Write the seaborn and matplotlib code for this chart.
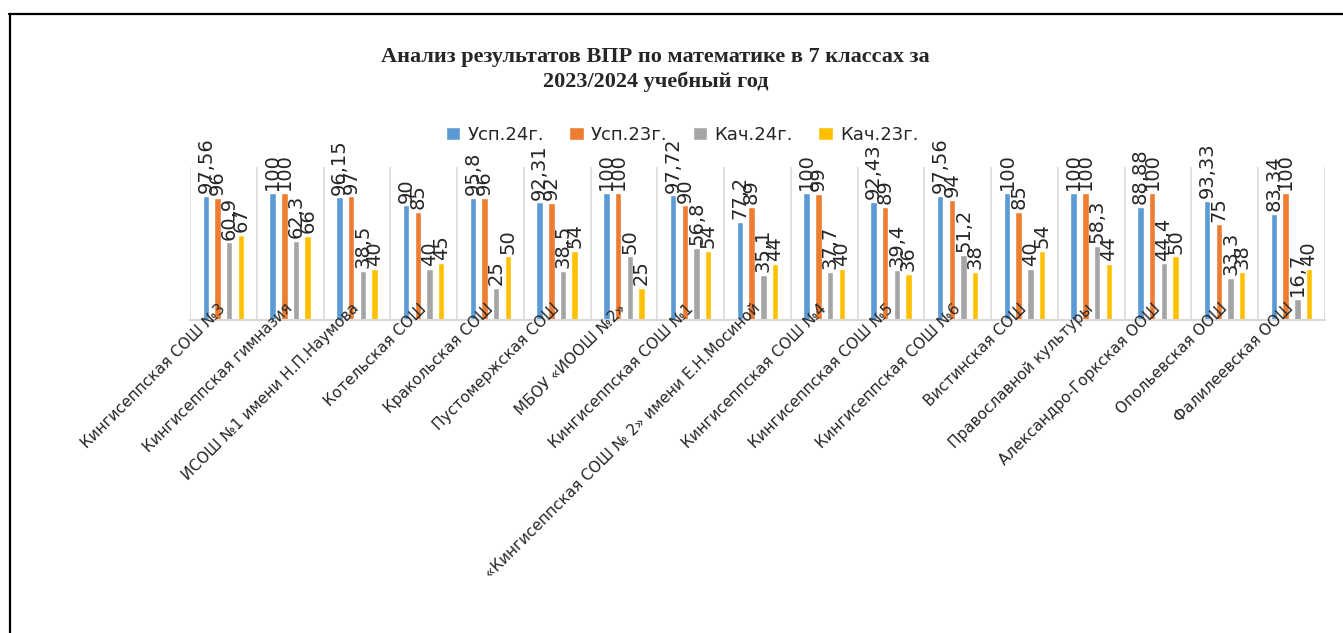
import seaborn as sns
import matplotlib.pyplot as plt
import pandas as pd
import numpy as np
from matplotlib.lines import Line2D

# data
schools = [
    "Кингисеппская СОШ №3",
    "Кингисеппская гимназия",
    "ИСОШ №1 имени Н.П.Наумова",
    "Котельская СОШ",
    "Кракольская СОШ",
    "Пустомержская СОШ",
    "МБОУ «ИООШ №2»",
    "Кингисеппская СОШ №1",
    "«Кингисеппская СОШ № 2» имени Е.Н.Мосиной",
    "Кингисеппская СОШ №4",
    "Кингисеппская СОШ №5",
    "Кингисеппская СОШ №6",
    "Вистинская СОШ",
    "Православной культуры",
    "Александро-Горкская ООШ",
    "Опольевская ООШ",
    "Фалилеевская ООШ",
]
series = ["Усп.24г.", "Усп.23г.", "Кач.24г.", "Кач.23г."]
usp_24 = [97.56, 100, 96.15, 90, 95.8, 92.31, 100, 97.72, 77.2, 100, 92.43, 97.56, 100, 100, 88.88, 93.33, 83.34]
usp_23 = [96, 100, 97, 85, 96, 92, 100, 90, 89, 99, 89, 94, 85, 100, 100, 75, 100]
kach_24 = [60.9, 62.3, 38.5, 40, 25, 38.5, 50, 56.8, 35.1, 37.7, 39.4, 51.2, 40, 58.3, 44.4, 33.3, 16.7]
kach_23 = [67, 66, 40, 45, 50, 54, 25, 54, 44, 40, 36, 38, 54, 44, 50, 38, 40]
colors = ["#5B9BD5", "#ED7D31", "#A5A5A5", "#FFC000"]

values = [usp_24, usp_23, kach_24, kach_23]
df = pd.DataFrame({
    "Школа": np.tile(schools, len(series)),
    "Серия": np.repeat(series, len(schools)),
    "Значение": np.concatenate(values),
})

sns.set_style("white")
plt.rcParams["font.family"] = ["DejaVu Sans"]

fig = plt.figure(figsize=(13.43, 6.33), dpi=100)
ax = fig.add_axes([0.1415, 0.4945, 0.845, 0.2415])

sns.barplot(data=df, x="Школа", y="Значение", hue="Серия", palette=colors,
            width=0.7, gap=0.45, saturation=1, ax=ax)

def fmt(v):
    return f"{v:g}".replace(".", ",")

for cont, vals in zip(ax.containers, values):
    ax.bar_label(cont, labels=[fmt(v) for v in vals], rotation=90,
                 padding=2, fontsize=14, color="#262626")

ax.set_ylim(0, 120)
ax.set_xlim(-0.5, len(schools) - 0.5)
ax.set_xlabel("")
ax.set_ylabel("")
ax.set_yticks([])
for s in ["left", "right", "top"]:
    ax.spines[s].set_visible(False)
ax.spines["bottom"].set_color("#d9d9d9")
ax.spines["bottom"].set_linewidth(1.5)
# category labels are drawn over the bars, as in the reference
ax.set_axisbelow(False)

# separators between categories
ax.set_xticks(np.arange(-0.5, len(schools), 1), minor=True)
ax.grid(True, which="minor", axis="x", color="#d9d9d9", linewidth=1.2)
ax.tick_params(axis="x", which="both", length=0)
ax.set_xticks(range(len(schools)))
ax.set_xticklabels(schools, rotation=45, ha="right", va="center",
                   rotation_mode="anchor", fontsize=11, color="#262626")
ax.tick_params(axis="x", which="major", pad=-10)

ax.legend(loc="center", bbox_to_anchor=(0.508, 0.787), bbox_transform=fig.transFigure,
          ncol=4, frameon=False, fontsize=13, handlelength=0.8, handleheight=0.8,
          columnspacing=1.4, handletextpad=0.4, labelcolor="#262626")

fig.text(0.488, 0.89, "Анализ результатов ВПР по математике в 7 классах за\n2023/2024 учебный год",
         ha="center", va="center", fontsize=16, fontweight="bold",
         family=["Liberation Serif", "DejaVu Serif"], linespacing=1.3)

# outer frame (top and left edges)
fig.add_artist(Line2D([0.007, 1.0], [1 - 14 / 633, 1 - 14 / 633], color="black",
                      linewidth=1.6, transform=fig.transFigure))
fig.add_artist(Line2D([0.0075, 0.0075], [0, 1 - 14 / 633], color="black",
                      linewidth=1.6, transform=fig.transFigure))

fig.savefig("out.png", dpi=100)
plt.close(fig)
